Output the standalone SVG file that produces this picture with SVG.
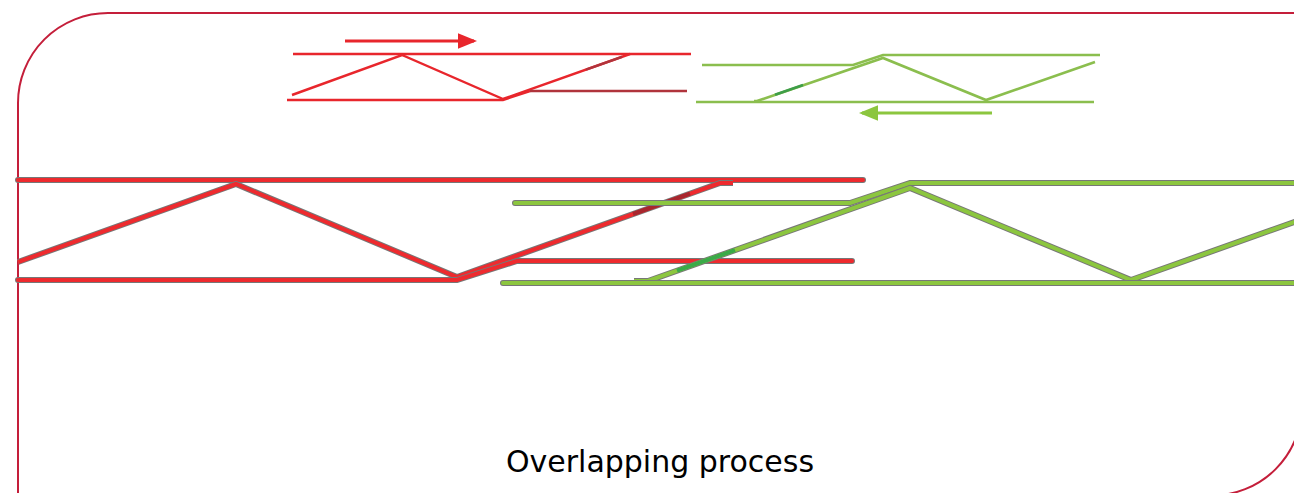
<svg xmlns="http://www.w3.org/2000/svg" width="1294" height="493" viewBox="0 0 1294 493">
<defs>
<style>
.frame{fill:none;stroke:#C41E3A;stroke-width:2}
.sr{fill:none;stroke:#E8262C;stroke-width:2.4;stroke-linejoin:miter}
.srd{fill:none;stroke:#B0343C;stroke-width:2.4}
.sg{fill:none;stroke:#8BBE4E;stroke-width:2.6}
.sgd{fill:none;stroke:#3E9E48;stroke-width:2.6}
.out{fill:none;stroke:#777;stroke-width:6;stroke-linejoin:miter}
.outr{fill:none;stroke:#777;stroke-width:6;stroke-linecap:round}
.br{fill:none;stroke:#EE2A2E;stroke-width:4}
.brr{fill:none;stroke:#EE2A2E;stroke-width:4;stroke-linecap:round}
.brd{fill:none;stroke:#A8262E;stroke-width:4}
.bg{fill:none;stroke:#8CC63F;stroke-width:4}
.bgr{fill:none;stroke:#8CC63F;stroke-width:4;stroke-linecap:round}
.bgd{fill:none;stroke:#3AAA48;stroke-width:4}
.lbl{font-family:"DejaVu Sans",Verdana,sans-serif;font-size:30px;fill:#000}
</style>
<marker id="ahr" markerWidth="6" markerHeight="6" refX="5" refY="3" orient="auto" markerUnits="strokeWidth"><path d="M0,0.6 L6,3 L0,5.4 z" fill="#E8262C"/></marker>
<marker id="ahg" markerWidth="6" markerHeight="6" refX="5" refY="3" orient="auto" markerUnits="strokeWidth"><path d="M0,0.6 L6,3 L0,5.4 z" fill="#8CC63F"/></marker>
</defs>
<g id="frame"><path class="frame" d="M18,500 L18,103 A90,90 0 0 1 108,13 L1302,13 L1302,405.5 A90,90 0 0 1 1212,495.5 L18,495.5 Z"/></g>
<g id="connectors">
<line x1="345" y1="41" x2="474" y2="41" stroke="#E8262C" stroke-width="3.2" marker-end="url(#ahr)"/>
<path class="sr" d="M293,54 L691,54"/>
<path class="sr" d="M292,95 L402,55 L503,99 L630,54"/>
<path class="sr" d="M287,100 L503,100 L530,91"/>
<path class="srd" d="M530,91 L687,91"/>
<path class="srd" d="M586,69.6 L622,56.8"/>
<line x1="992" y1="113" x2="862" y2="113" stroke="#8CC63F" stroke-width="3.2" marker-end="url(#ahg)"/>
<path class="sg" d="M702,65 L853,65 L883,55 L1100,55"/>
<path class="sg" d="M754,101 L757,101 L883,58 L986,100 L1095,62"/>
<path class="sg" d="M696,102 L1094,102"/>
<path class="sgd" d="M775,94.7 L803,85"/>
<path class="outr" d="M18,180 L863,180"/>
<path class="brr" d="M18,180 L863,180"/>
<path class="out" d="M18,262 L236,184 L457,277 L720,183 L733,183"/>
<path class="br" d="M18,262 L236,184 L457,277 L720,183 L733,183"/>
<path class="brd" d="M633,214 L690,193.7"/>
<path class="outr" d="M18,280 L457,280 L517,261 L852,261"/>
<path class="brr" d="M18,280 L457,280 L517,261 L852,261"/>
<path class="outr" d="M515,203 L850,203 L910,183 L1300,183"/>
<path class="bgr" d="M515,203 L850,203 L910,183 L1300,183"/>
<path class="out" d="M634,281 L648,281 L910,188 L1131,280 L1300,220"/>
<path class="bg" d="M634,281 L648,281 L910,188 L1131,280 L1300,220"/>
<path class="bgd" d="M677,270.7 L735,250.1"/>
<path class="outr" d="M503,283 L1300,283"/>
<path class="bgr" d="M503,283 L1300,283"/>
</g>
<g id="caption"><text class="lbl" x="660" y="472" text-anchor="middle">Overlapping process</text></g>
</svg>
